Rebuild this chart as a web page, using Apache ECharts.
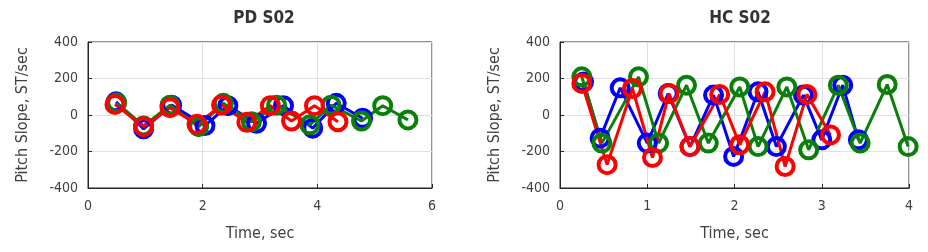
<!DOCTYPE html>
<html><head><meta charset="utf-8">
<script src="https://cdn.jsdelivr.net/npm/echarts@6/dist/echarts.min.js"></script>
<style>html,body{margin:0;padding:0;background:#fff}#c{width:928px;height:252px}</style>
</head><body><div id="c"></div>
<script>
// PD S02 (left)
const pdBlue  = [[0.49,72],[0.97,-76],[1.46,54],[2.04,-58],[2.44,51],[2.94,-45],[3.41,51],[3.92,-72],[4.33,64],[4.79,-18]];
const pdGreen = [[0.50,67],[0.97,-60],[1.43,54],[1.93,-64],[2.36,64],[2.85,-37],[3.29,54],[3.87,-54],[4.24,54],[4.77,-33],[5.14,51],[5.58,-27]];
const pdRed   = [[0.47,58],[0.97,-64],[1.43,40],[1.90,-51],[2.33,55],[2.77,-40],[3.18,51],[3.55,-33],[3.95,51],[4.36,-37]];
// HC S02 (right)
const hcBlue  = [[0.27,181],[0.46,-127],[0.69,149],[1.00,-154],[1.24,118],[1.49,-173],[1.76,109],[1.99,-227],[2.27,127],[2.48,-173],[2.79,109],[3.00,-136],[3.24,163],[3.42,-136]];
const hcGreen = [[0.25,209],[0.48,-154],[0.90,209],[1.13,-154],[1.45,163],[1.70,-154],[2.06,154],[2.27,-173],[2.60,154],[2.85,-191],[3.19,163],[3.44,-154],[3.75,167],[3.99,-173]];
const hcRed   = [[0.25,173],[0.54,-272],[0.83,145],[1.06,-233],[1.25,118],[1.49,-173],[1.83,113],[2.06,-163],[2.35,127],[2.58,-282],[2.83,113],[3.10,-109]];

const titles = ['PD S02','HC S02'];
const xLabel = 'Time, sec';
const yLabel = 'Pitch Slope, ST/sec';

const FONT = "'Liberation Sans Narrow','DejaVu Sans Condensed',sans-serif";
const C = {blue:'#0000ff', green:'#0a800a', red:'#ff0000'};

function ser(data, col, idx){
  return {type:'line', xAxisIndex:idx, yAxisIndex:idx, data:data,
    symbol:'circle', symbolSize:17, showAllSymbol:true,
    lineStyle:{color:col,width:3}, itemStyle:{color:'transparent',borderColor:col,borderWidth:4},
    emphasis:{disabled:true}, animation:false, z:2};
}
function xAx(idx,max,interval){
  return {type:'value', gridIndex:idx, min:0, max:max, interval:interval,
    name:xLabel, nameLocation:'middle', nameGap:38,
    nameTextStyle:{fontFamily:FONT,fontSize:16,color:'#404040'},
    axisLine:{show:true,onZero:false,lineStyle:{color:'#262626',width:1}},
    axisTick:{show:true,inside:true,length:4,lineStyle:{color:'#262626'}},
    axisLabel:{fontFamily:FONT,fontSize:14,color:'#404040',margin:11},
    splitLine:{show:true,lineStyle:{color:'#e0e0e0',width:1}}};
}
function yAx(idx){
  return {type:'value', gridIndex:idx, min:-400, max:400, interval:200,
    name:yLabel, nameLocation:'middle', nameGap:57,
    nameTextStyle:{fontFamily:FONT,fontSize:16,color:'#404040'},
    axisLine:{show:true,onZero:false,lineStyle:{color:'#262626',width:1}},
    axisTick:{show:true,inside:true,length:4,lineStyle:{color:'#262626'}},
    axisLabel:{fontFamily:FONT,fontSize:14,color:'#404040',margin:10},
    splitLine:{show:true,lineStyle:{color:'#e0e0e0',width:1}}};
}
const chart = echarts.init(document.getElementById('c'), null, {renderer:'canvas'});
chart.setOption({
  backgroundColor:'#fff',
  animation:false,
  title:[
    {text:titles[0], left:259, top:5, textAlign:'center', textStyle:{fontFamily:FONT,fontSize:17,fontWeight:'bold',color:'#333'}},
    {text:titles[1], left:735, top:5, textAlign:'center', textStyle:{fontFamily:FONT,fontSize:17,fontWeight:'bold',color:'#333'}}
  ],
  grid:[
    {left:88, right:496, top:42, height:146, show:true, borderColor:'#262626', borderWidth:1, backgroundColor:'transparent'},
    {left:560, right:19, top:42, height:146, show:true, borderColor:'#262626', borderWidth:1, backgroundColor:'transparent'}
  ],
  xAxis:[xAx(0,6,2), xAx(1,4,1)],
  yAxis:[yAx(0), yAx(1)],
  series:[
    ser(pdBlue,C.blue,0), ser(pdGreen,C.green,0), ser(pdRed,C.red,0),
    ser(hcBlue,C.blue,1), ser(hcGreen,C.green,1), ser(hcRed,C.red,1)
  ]
});
</script></body></html>
